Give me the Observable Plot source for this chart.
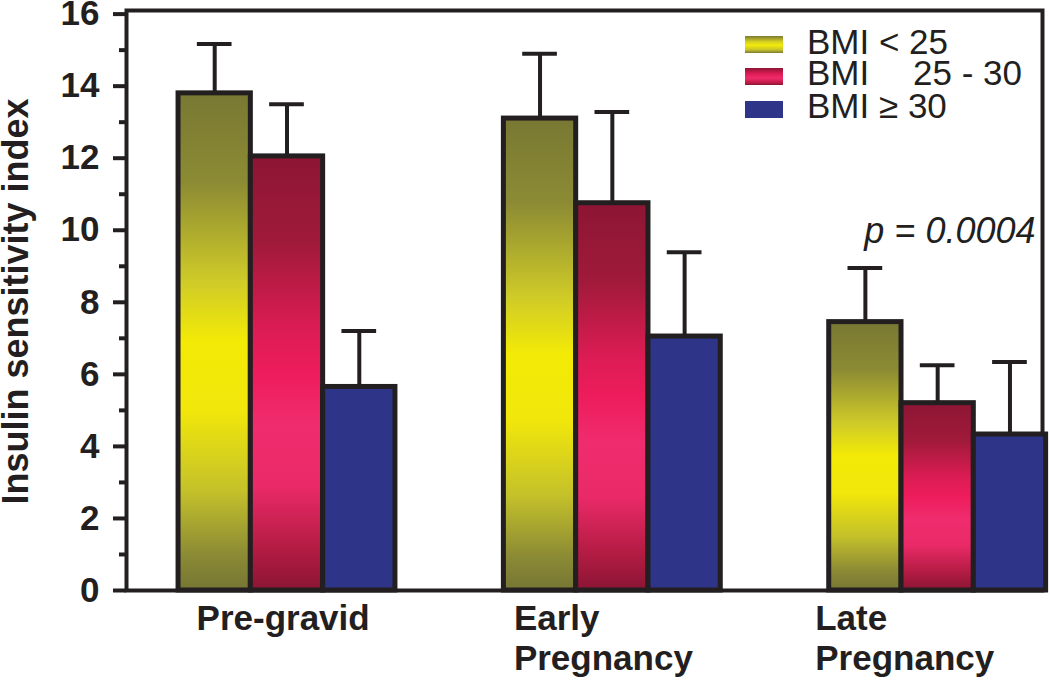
<!DOCTYPE html>
<html>
<head>
<meta charset="utf-8">
<script src="https://cdn.jsdelivr.net/npm/d3@7"></script>
<script src="https://cdn.jsdelivr.net/npm/@observablehq/plot@0.6"></script>
<style>
  html, body { margin: 0; padding: 0; background: #fff; }
  #wrap { position: relative; width: 1050px; height: 684px; font-family: "Liberation Sans", Arial, sans-serif; }
  #legend { position: absolute; left: 0; top: 0; width: 0; height: 0; }
  .sw { position: absolute; left: 745px; width: 38px; height: 17px; }
  .lt { position: absolute; font-size: 35px; color: #231f20; line-height: 30px; white-space: pre; }
</style>
</head>
<body>
<div id="wrap"></div>
<script>
// ---- data ----
const groups = ["Pre-gravid", "Early\nPregnancy", "Late\nPregnancy"];
const seriesNames = ["BMI < 25", "BMI 25 - 30", "BMI ≥ 30"];
const bmiUnder25 = [13.8, 13.1, 7.45];
const bmi25to30 = [12.05, 10.75, 5.2];
const bmiOver30 = [5.65, 7.05, 4.33];
const errTopUnder25 = [15.17, 14.9, 8.95];
const errTop25to30 = [13.5, 13.28, 6.25];
const errTopOver30 = [7.2, 9.39, 6.34];
const yTicks = [0, 2, 4, 6, 8, 10, 12, 14, 16];
const yMinorTicks = [1, 3, 5, 7, 9, 11, 13, 15];
const pLabel = "p = 0.0004";

const values = [bmiUnder25, bmi25to30, bmiOver30];
const tops = [errTopUnder25, errTop25to30, errTopOver30];
const groupStep = 4.5; // bar-widths between group starts
const rows = [];
groups.forEach((g, gi) => {
  seriesNames.forEach((s, si) => {
    const x1 = gi * groupStep + si;
    rows.push({group: g, series: s, si, x1, x2: x1 + 1, xc: x1 + 0.5, value: values[si][gi], top: tops[si][gi]});
  });
});
const groupRows = groups.map((g, gi) => ({group: g, x: gi * groupStep}));

const ink = "#231f20";
const fillIds = ["gOlive", "gRed", "gBlue"];

function defsMark() {
  const defs = d3.create("svg:defs");
  const specs = {
    gOlive: [[0, "#787833"], [0.18, "#8c8b34"], [0.38, "#cfcb28"], [0.5, "#f3ea06"], [0.64, "#f1e70b"], [0.8, "#c4c12a"], [0.93, "#8b8a35"], [1, "#767634"]],
    gRed: [[0, "#8d1534"], [0.2, "#a01a3a"], [0.4, "#dc1c54"], [0.5, "#ee1c5c"], [0.62, "#ef2c6e"], [0.76, "#ea2a68"], [0.9, "#b51c44"], [1, "#8b1534"]],
    gBlue: [[0, "#2e3488"], [1, "#2e3488"]]
  };
  for (const [id, stops] of Object.entries(specs)) {
    const lg = defs.append("linearGradient").attr("id", id).attr("x1", 0).attr("y1", 0).attr("x2", 0).attr("y2", 1);
    for (const [o, c] of stops) lg.append("stop").attr("offset", o).attr("stop-color", c);
  }
  return defs.node();
}

const chart = Plot.plot({
  width: 1050,
  height: 684,
  marginTop: 10,
  marginBottom: 94,
  marginLeft: 126,
  marginRight: 8,
  style: {fontFamily: "'Liberation Sans', Arial, sans-serif", color: ink, overflow: "visible"},
  x: {type: "linear", domain: [-0.72, 11.95], axis: null},
  y: {domain: [0, 16.1], axis: null},
  marks: [
    defsMark,
    Plot.frame({stroke: ink, strokeWidth: 4}),
    Plot.axisY({ticks: yMinorTicks, tickSize: 7, tickFormat: () => "", strokeWidth: 4, stroke: ink, label: null}),
    Plot.axisY({ticks: yTicks, tickSize: 13, tickPadding: 14, strokeWidth: 4, stroke: ink, fontSize: 35, fontWeight: "bold", fill: ink, label: null, tickFormat: d3.format("d")}),
    Plot.text(["Insulin sensitivity index"], {frameAnchor: "left", textAnchor: "middle", rotate: -90, dx: -110, dy: 1, fontSize: 36, fontWeight: "bold", fill: ink}),
    Plot.ruleX(rows, {x: "xc", y1: "value", y2: "top", stroke: ink, strokeWidth: 4}),
    Plot.ruleY(rows, {y: "top", x1: d => d.xc - 0.24, x2: d => d.xc + 0.24, stroke: ink, strokeWidth: 4}),
    ...fillIds.map((id, si) => Plot.rectY(rows.filter(d => d.si === si), {x1: "x1", x2: "x2", y1: 0, y2: "value", fill: `url(#${id})`, stroke: ink, strokeWidth: 5})),
    ...[18, 10, -14].map((dx, gi) => Plot.text([groupRows[gi]], {x: "x", y: 0, text: "group", textAnchor: "start", lineAnchor: "top", dx, dy: 11, lineHeight: 1.14, fontSize: 35, fontWeight: "bold", fill: ink})),
    Plot.text([pLabel], {frameAnchor: "top-right", dx: -7, dy: 207, textAnchor: "end", lineAnchor: "top", fontSize: 36, fontStyle: "italic", fill: ink})
  ]
});

const wrap = document.getElementById("wrap");
wrap.appendChild(chart);

// legend overlay
const legend = document.createElement("div");
legend.id = "legend";
const swatchCss = [
  "linear-gradient(to bottom, #7c7b34 0%, #d8d320 35%, #f2ea08 55%, #c9c52a 80%, #7c7b34 100%)",
  "linear-gradient(to bottom, #8d1534 0%, #e01c56 35%, #ef2b6c 60%, #c01d48 85%, #8d1534 100%)",
  "#2e3488"
];
const swTop = [36, 68, 101];
const txtTop = [27, 58, 91];
const legendParts = [
  [["BMI < 25", 807]],
  [["BMI", 807], ["25 - 30", 913]],
  [["BMI ≥ 30", 807]]
];
seriesNames.forEach((s, i) => {
  const sw = document.createElement("div");
  sw.className = "sw";
  sw.style.top = swTop[i] + "px";
  sw.style.background = swatchCss[i];
  legend.appendChild(sw);
  for (const [t, left] of legendParts[i]) {
    const lt = document.createElement("div");
    lt.className = "lt";
    lt.style.left = left + "px";
    lt.style.top = txtTop[i] + "px";
    lt.textContent = t;
    legend.appendChild(lt);
  }
});
wrap.appendChild(legend);
</script>
</body>
</html>
